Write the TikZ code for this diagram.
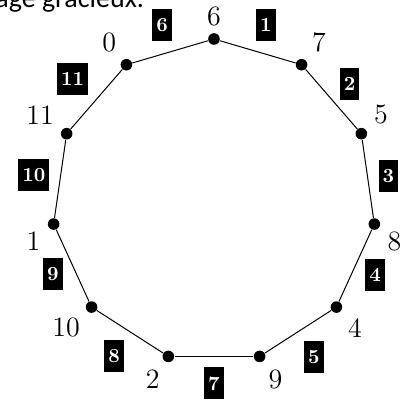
\documentclass[tikz,border=0pt]{standalone}
\usepackage{fontspec}
\newfontfamily\captionfont{Carlito}
\newcommand\vfont{\fontsize{14}{16}\selectfont}
\tikzset{
  vertex/.style={circle,fill=black,inner sep=0pt,minimum size=5.8pt},
  elabel/.style={fill=black,text=white,font=\fontsize{10}{12}\selectfont\bfseries,
    inner xsep=2pt,inner ysep=0pt,minimum height=16pt},
}
\begin{document}
\begin{tikzpicture}[x=0.5pt,y=0.5pt]
  \useasboundingbox (-214,-200) rectangle (200,201);
  \node[anchor=base east,font=\captionfont\fontsize{14}{16}\selectfont] (caption) at (-63,193.5) {age gracieux.};
  % vertices of the 11-cycle with their labels
  \foreach \lab [count=\i from 0] in {6,7,5,8,4,9,2,10,1,11,0} {
    \pgfmathsetmacro\a{90-\i*360/11}
    \node[vertex,label={[font=\vfont]\a:\lab}] (v\i) at (\a:162) {};
  }
  \foreach \i [evaluate=\i as \j using {int(mod(\i+1,11))}] in {0,...,10}
    \draw[line width=0.5pt] (v\i) -- (v\j);
  % edge labels
  \foreach \w [count=\i from 0] in {1,2,3,4,5,7,8,9,10,11,6} {
    \pgfmathsetmacro\b{90-(\i+0.5)*360/11}
    \pgfmathsetmacro\c{\b+180}
    \node[elabel,anchor=\c] (e\i) at (\b:166) {\w};
  }
\end{tikzpicture}
\end{document}
